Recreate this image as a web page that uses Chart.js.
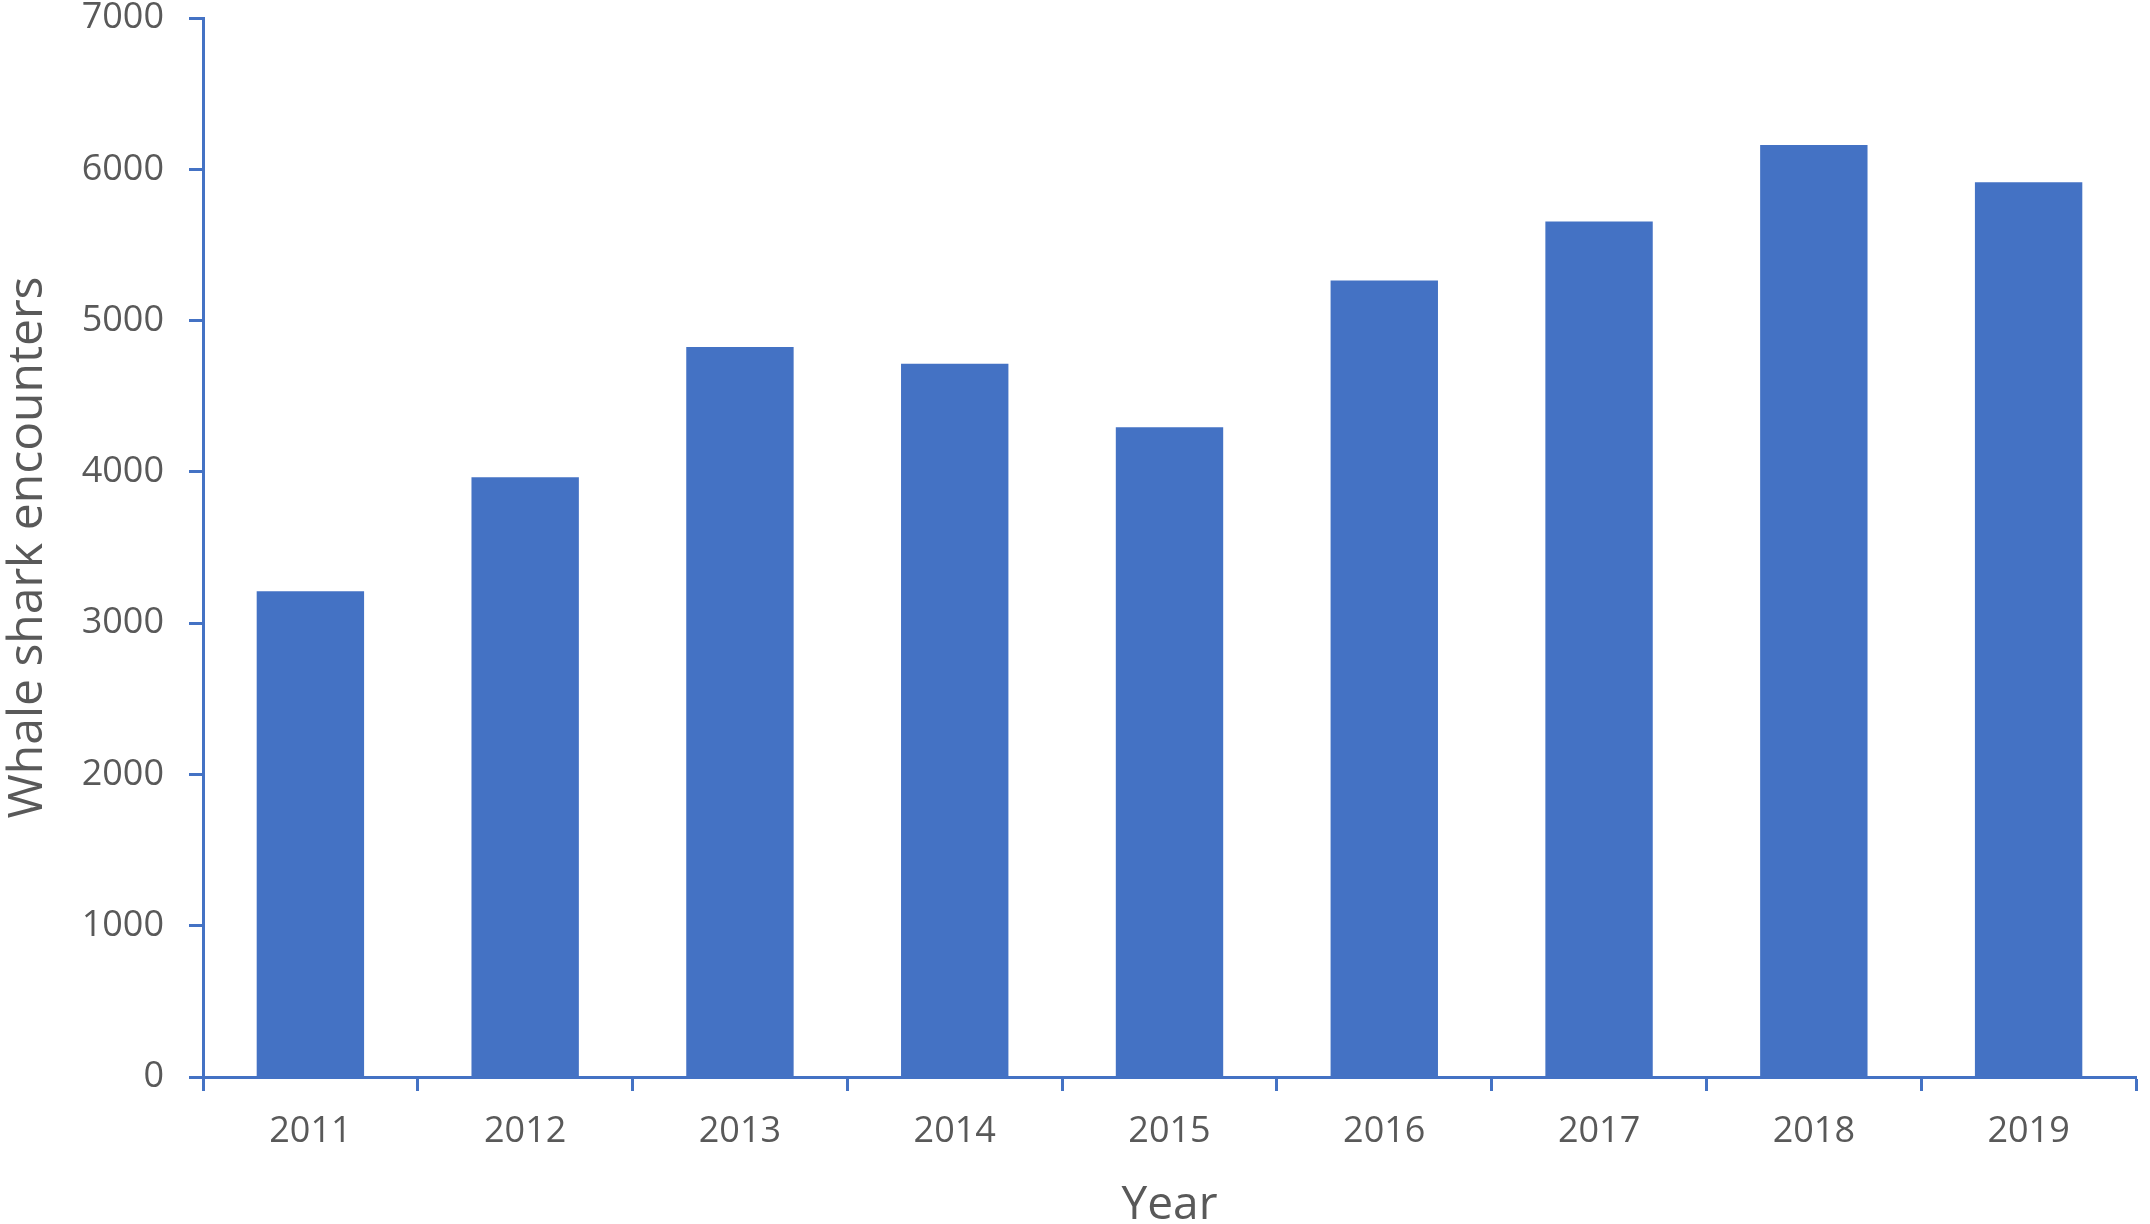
<!DOCTYPE html>
<html>
<head>
<meta charset="utf-8">
<script src="https://cdn.jsdelivr.net/npm/chart.js@4/dist/chart.umd.min.js"></script>
<style>
  html, body { margin: 0; padding: 0; background: #fff; }
  #wrap { width: 2150px; height: 1224px; }
</style>
</head>
<body>
<div id="wrap"><canvas id="sharkChart" width="2150" height="1224"></canvas></div>
<script>
const years = ['2011', '2012', '2013', '2014', '2015', '2016', '2017', '2018', '2019'];
const encounters = [3210, 3965, 4825, 4715, 4295, 5265, 5655, 6160, 5915];
const yTicks = [0, 1000, 2000, 3000, 4000, 5000, 6000, 7000];

const blue = '#4472C4';
const grey = '#595959';
const font = "'Open Sans', 'Noto Sans', sans-serif";

const ctx = document.getElementById('sharkChart').getContext('2d');

new Chart(ctx, {
  type: 'bar',
  data: {
    labels: years,
    datasets: [{
      label: 'Whale shark encounters',
      data: encounters,
      backgroundColor: blue,
      borderWidth: 0,
      barPercentage: 0.5,
      categoryPercentage: 1.0
    }]
  },
  options: {
    responsive: false,
    animation: false,
    devicePixelRatio: 1,
    layout: {
      padding: { top: 18, right: 14, bottom: 0, left: 0 }
    },
    plugins: {
      legend: { display: false },
      tooltip: { enabled: false }
    },
    scales: {
      x: {
        grid: {
          display: true,
          offset: true,
          drawOnChartArea: false,
          drawTicks: true,
          tickLength: 14,
          tickColor: blue,
          tickWidth: 3
        },
        border: { display: true, color: blue, width: 3 },
        ticks: {
          color: grey,
          padding: 19,
          maxRotation: 0,
          font: { family: font, size: 36 }
        },
        title: {
          display: true,
          text: 'Year',
          color: grey,
          padding: { top: 0, bottom: 0 },
          font: { family: font, size: 46, lineHeight: 0.8 }
        },
        afterFit: scale => {
          scale.height = 147;
          scale.paddingLeft = 0;
          scale.paddingRight = 0;
        }
      },
      y: {
        min: 0,
        max: 7000,
        afterBuildTicks: scale => {
          scale.ticks = yTicks.map(v => ({ value: v }));
        },
        grid: {
          display: true,
          drawOnChartArea: false,
          drawTicks: true,
          tickLength: 14,
          tickColor: blue,
          tickWidth: 3
        },
        border: { display: true, color: blue, width: 3 },
        ticks: {
          color: grey,
          padding: 25,
          font: { family: font, size: 36 },
          callback: value => String(value)
        },
        title: {
          display: true,
          text: 'Whale shark encounters',
          color: grey,
          padding: { top: 4, bottom: 0 },
          font: { family: font, size: 48, lineHeight: 1.0 }
        },
        afterFit: scale => {
          scale.width = 203;
          scale.paddingTop = 0;
          scale.paddingBottom = 0;
        }
      }
    }
  }
});
</script>
</body>
</html>
